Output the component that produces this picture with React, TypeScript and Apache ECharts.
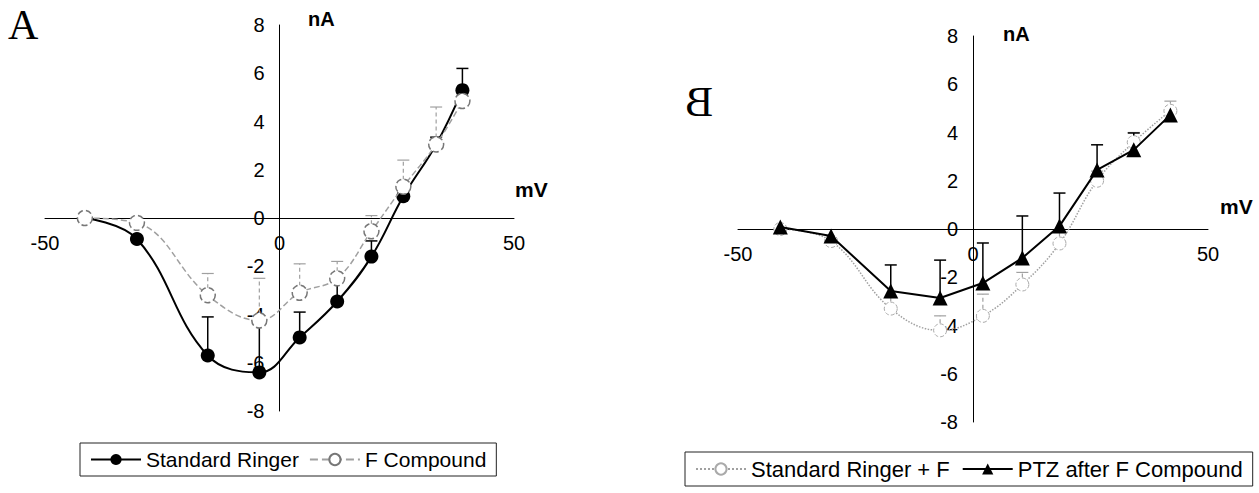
import React, { useEffect, useRef } from 'react';
import * as echarts from 'echarts';

// Panel A
const voltsA = [-41.5, -30.4, -15.3, -4.3, 4.3, 12.3, 19.6, 26.4, 33.4, 39];
const ringerA = [0, -0.87, -5.7, -6.4, -4.95, -3.46, -1.6, 0.9, 3.05, 5.3];
const ringerErrA = [0, 0, 1.6, 2.1, 1.05, 1.0, 0.65, 0.4, 0.3, 0.9];
const compoundA = [0, -0.2, -3.2, -4.25, -3.1, -2.5, -0.55, 1.3, 3.05, 4.85];
const compoundErrA = [0, 0.2, 0.9, 1.75, 1.2, 0.7, 0.65, 1.1, 1.55, 0.4];

// Panel B
const voltsB = [-41, -30.2, -17.5, -7, 2.1, 10.5, 18.4, 26.4, 34.2, 42];
const ptzB = [0.08, -0.29, -2.57, -2.86, -2.24, -1.2, 0.12, 2.45, 3.28, 4.73];
const ptzErrB = [0, 0, 1.08, 1.57, 1.66, 1.74, 1.37, 1.04, 0.7, 0];
const ringerFB = [0, -0.5, -3.3, -4.2, -3.6, -2.3, -0.6, 2.0, 3.6, 4.9];
const ringerFErrB = [0, 0, 0.5, 0.6, 0.9, 0.5, 0.5, 0.4, 0.4, 0.4];

// Axis ticks
const xTicks = [-50, 0, 50];
const yTicks = [-8, -6, -4, -2, 0, 2, 4, 6, 8];

const SANS = '"Liberation Sans", Arial, sans-serif';
const SERIF = '"Liberation Serif", "Times New Roman", serif';
const GRAY = '#a0a0a0';

const GRID_A = { left: 45, top: 25, width: 469, height: 386 };
const GRID_B = { left: 738, top: 36, width: 470, height: 386 };

const pairs = (xs: number[], ys: number[]) => xs.map((x, i) => [x, ys[i]]);

function errSeries(name: string, xs: number[], ys: number[], es: number[], idx: number, color: string, width: number, dashed: boolean) {
  return {
    type: 'custom',
    name,
    xAxisIndex: idx,
    yAxisIndex: idx,
    z: 1,
    clip: false,
    silent: true,
    data: xs.map((x, i) => [x, ys[i], es[i]]),
    encode: { x: 0, y: 1 },
    renderItem: (params: any, api: any) => {
      const x = api.value(0);
      const y = api.value(1);
      const e = api.value(2);
      if (!e) return { type: 'group', children: [] };
      const p0 = api.coord([x, y]);
      const p1 = api.coord([x, y + e]);
      const style = { stroke: color, lineWidth: width, lineDash: dashed ? [4, 3] : null };
      return {
        type: 'group',
        children: [
          { type: 'line', shape: { x1: p0[0], y1: p0[1], x2: p1[0], y2: p1[1] }, style },
          { type: 'line', shape: { x1: p1[0] - 6, y1: p1[1], x2: p1[0] + 6, y2: p1[1] }, style: { stroke: color, lineWidth: width } },
        ],
      };
    },
  };
}

// axes cross at the centre of the grid (symmetric ranges), so shift them there
function axes(idx: number, g: { width: number; height: number }) {
  const x = {
    type: 'value',
    gridIndex: idx,
    position: 'bottom',
    offset: -g.height / 2,
    min: xTicks[0],
    max: xTicks[xTicks.length - 1],
    interval: xTicks[1] - xTicks[0],
    axisLine: { onZero: false, lineStyle: { color: '#000', width: 1 } },
    axisTick: { show: false },
    splitLine: { show: false },
    axisLabel: { color: '#000', fontSize: 20, fontFamily: SANS, margin: 15 },
  };
  const y = {
    type: 'value',
    gridIndex: idx,
    position: 'left',
    offset: -g.width / 2,
    min: yTicks[0],
    max: yTicks[yTicks.length - 1],
    interval: yTicks[1] - yTicks[0],
    axisLine: { onZero: false, lineStyle: { color: '#000', width: 1 } },
    axisTick: { show: false },
    splitLine: { show: false },
    axisLabel: { color: '#000', fontSize: 20, fontFamily: SANS, margin: 15 },
  };
  return { x, y };
}

export default function App() {
  const ref = useRef<HTMLDivElement>(null);
  useEffect(() => {
    if (!ref.current) return;
    const chart = echarts.init(ref.current, null, { renderer: 'svg' });
    const a = axes(0, GRID_A);
    const b = axes(1, GRID_B);
    chart.setOption({
      animation: false,
      backgroundColor: '#fff',
      grid: [GRID_A, GRID_B],
      xAxis: [a.x, b.x],
      yAxis: [a.y, b.y],
      legend: [
        {
          data: ['Standard Ringer', 'F Compound'],
          left: 80,
          top: 443,
          itemWidth: 50,
          itemHeight: 14,
          itemGap: 10,
          padding: [6, 10],
          borderColor: '#222',
          borderWidth: 1,
          textStyle: { fontSize: 21, fontFamily: SANS, color: '#000' },
        },
        {
          data: ['Standard Ringer + F', 'PTZ after F Compound'],
          left: 685,
          top: 452,
          itemWidth: 50,
          itemHeight: 14,
          itemGap: 12,
          padding: [6, 10],
          borderColor: '#222',
          borderWidth: 1,
          textStyle: { fontSize: 22, fontFamily: SANS, color: '#000' },
        },
      ],
      graphic: [
        { type: 'text', x: 8, y: 4, style: { text: 'A', font: `42px ${SERIF}`, fill: '#000', align: 'left', verticalAlign: 'top' } },
        { type: 'text', x: 713, y: 81, scaleX: -1, style: { text: 'B', font: `42px ${SERIF}`, fill: '#000', align: 'left', verticalAlign: 'top' } },
        { type: 'text', x: 308, y: 9, style: { text: 'nA', font: `bold 20px ${SANS}`, fill: '#000', align: 'left', verticalAlign: 'top' } },
        { type: 'text', x: 1003, y: 24, style: { text: 'nA', font: `bold 20px ${SANS}`, fill: '#000', align: 'left', verticalAlign: 'top' } },
        { type: 'text', x: 515, y: 179, style: { text: 'mV', font: `bold 21px ${SANS}`, fill: '#000', align: 'left', verticalAlign: 'top' } },
        { type: 'text', x: 1220, y: 196, style: { text: 'mV', font: `bold 21px ${SANS}`, fill: '#000', align: 'left', verticalAlign: 'top' } },
      ],
      series: [
        errSeries('errRingerA', voltsA, ringerA, ringerErrA, 0, '#000', 1.5, false),
        errSeries('errCompoundA', voltsA, compoundA, compoundErrA, 0, GRAY, 1.2, true),
        {
          name: 'Standard Ringer',
          type: 'line',
          xAxisIndex: 0,
          yAxisIndex: 0,
          data: pairs(voltsA, ringerA),
          smooth: 0.4,
          symbol: 'circle',
          symbolSize: 14,
          z: 3,
          lineStyle: { color: '#000', width: 2 },
          itemStyle: { color: '#000' },
        },
        {
          name: 'F Compound',
          type: 'line',
          xAxisIndex: 0,
          yAxisIndex: 0,
          data: pairs(voltsA, compoundA),
          smooth: 0.4,
          symbol: 'circle',
          symbolSize: 15,
          z: 4,
          lineStyle: { color: GRAY, width: 1.5, type: 'dashed' },
          itemStyle: { color: '#fff', borderColor: '#777', borderWidth: 1.5, borderType: 'dashed' },
        },
        errSeries('errRingerFB', voltsB, ringerFB, ringerFErrB, 1, GRAY, 1.2, true),
        errSeries('errPtzB', voltsB, ptzB, ptzErrB, 1, '#000', 1.5, false),
        {
          name: 'Standard Ringer + F',
          type: 'line',
          xAxisIndex: 1,
          yAxisIndex: 1,
          data: pairs(voltsB, ringerFB),
          smooth: 0.4,
          symbol: 'circle',
          symbolSize: 13,
          z: 2,
          lineStyle: { color: GRAY, width: 1.5, type: 'dotted' },
          itemStyle: { color: '#fff', borderColor: '#aaa', borderWidth: 1, borderType: 'dashed' },
        },
        {
          name: 'PTZ after F Compound',
          type: 'line',
          xAxisIndex: 1,
          yAxisIndex: 1,
          data: pairs(voltsB, ptzB),
          smooth: false,
          symbol: 'triangle',
          symbolSize: 15,
          z: 3,
          lineStyle: { color: '#000', width: 2 },
          itemStyle: { color: '#000' },
        },
      ],
    });
    return () => chart.dispose();
  }, []);
  return <div ref={ref} style={{ position: 'absolute', left: 0, top: 0, width: 1259, height: 493 }} />;
}
